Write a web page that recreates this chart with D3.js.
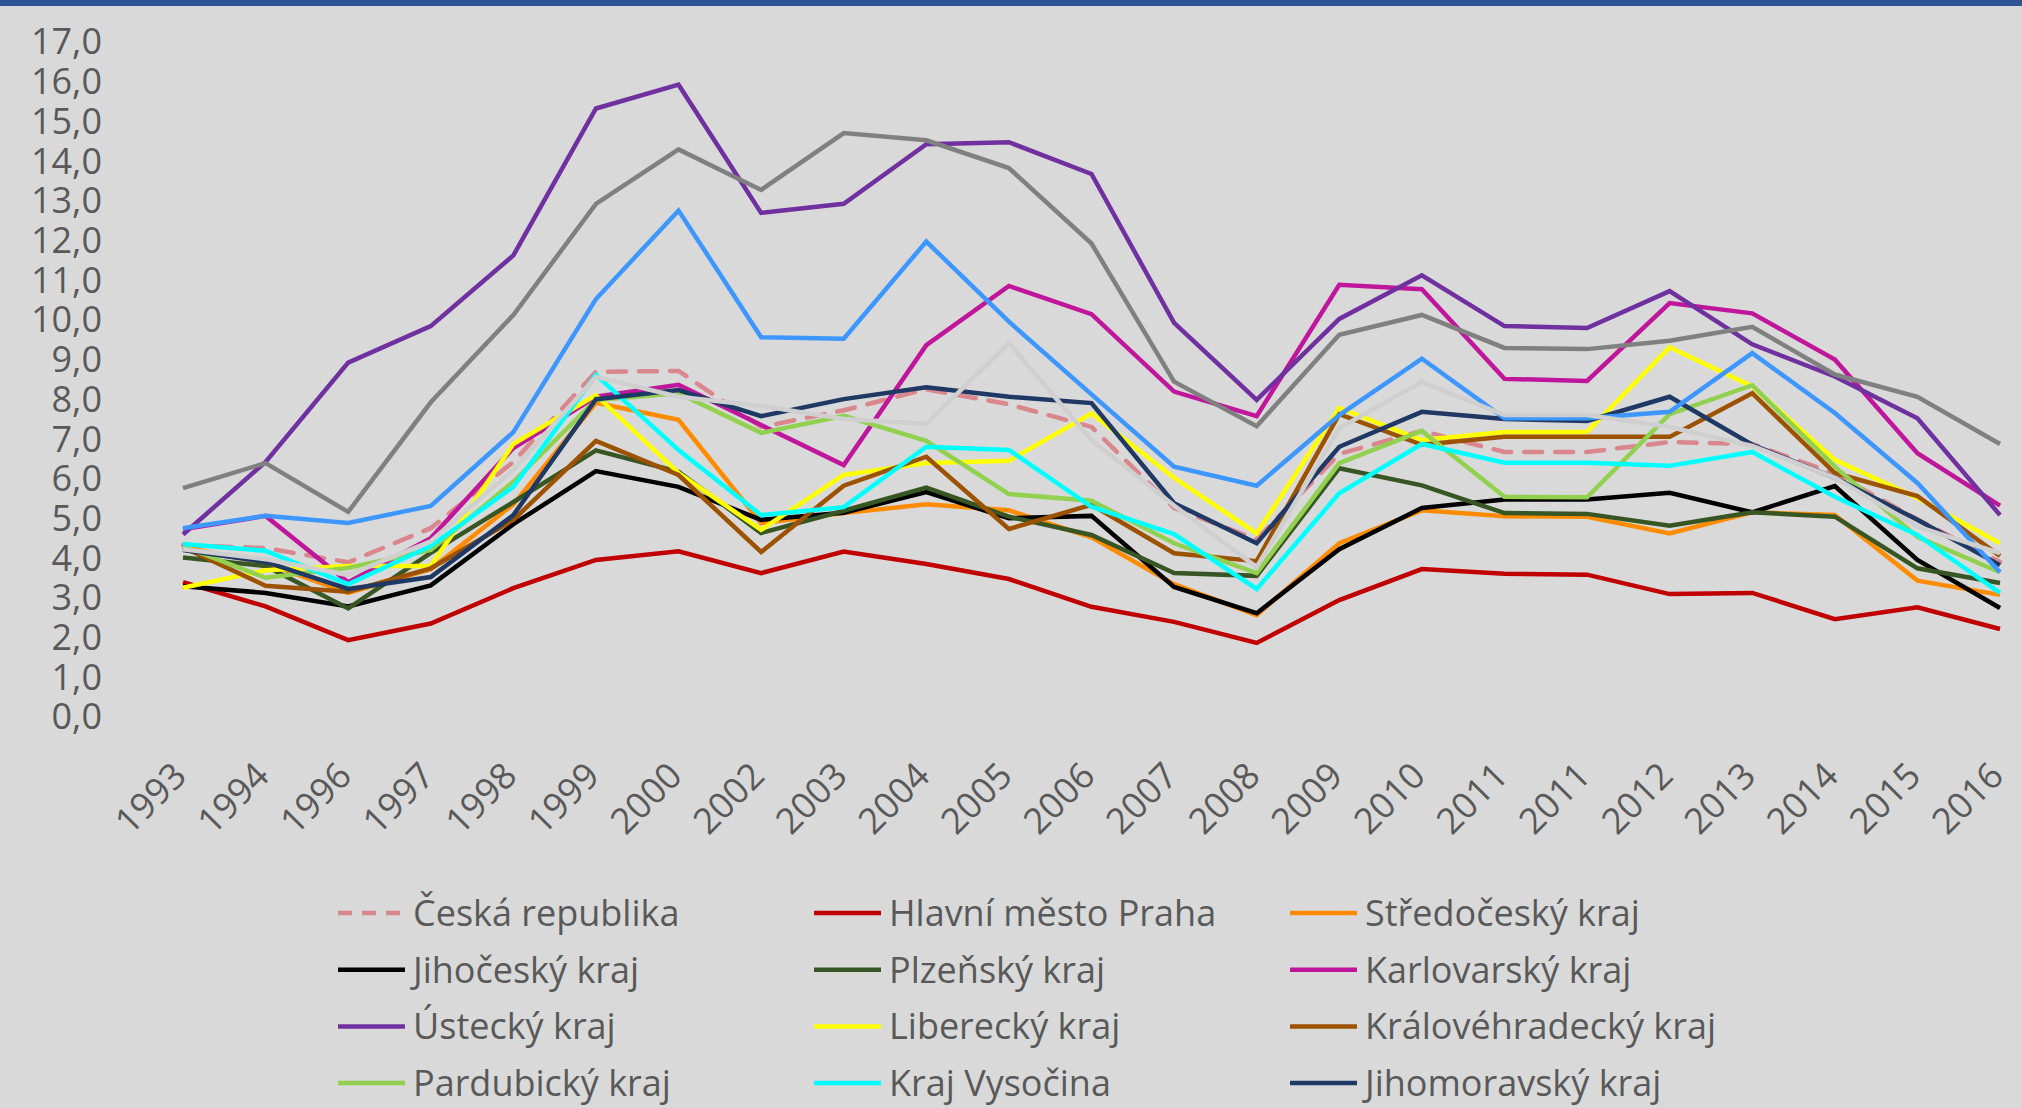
<!DOCTYPE html>
<meta charset="utf-8">
<style>
    body { margin: 0; background: #d9d9d9; }
    svg { display: block; background-color: #d9d9d9; }
    .axis text, .legend text { font-family: "Open Sans", sans-serif; font-size: 36px; fill: #595959; }
</style>
<body>
<script src="https://cdn.jsdelivr.net/npm/d3@7/dist/d3.min.js"></script>
<script>

    var width = 2022,
        height = 1108;

    // categories (2011 appears twice in the source sheet)
    var years = ["1993","1994","1996","1997","1998","1999","2000","2002","2003","2004","2005","2006",
                 "2007","2008","2009","2010","2011","2011","2012","2013","2014","2015","2016"];

    var yTicks = [0,1,2,3,4,5,6,7,8,9,10,11,12,13,14,15,16,17];

    var names = ["Česká republika","Hlavní město Praha","Středočeský kraj","Jihočeský kraj","Plzeňský kraj",
                 "Karlovarský kraj","Ústecký kraj","Liberecký kraj","Královéhradecký kraj","Pardubický kraj",
                 "Kraj Vysočina","Jihomoravský kraj","Olomoucký kraj","Zlínský kraj","Moravskoslezský kraj"];

    var colors = ["#d9868c","#c00000","#ff8c00","#000000","#375623","#c0169c","#7030a0","#ffff00",
                  "#9c5200","#92d050","#00ffff","#1f3864","#3d97ff","#cfcfcf","#808080"];

    var cr      = [4.3,4.23,3.87,4.73,6.4,8.67,8.69,7.28,7.7,8.23,7.85,7.28,5.24,4.45,6.6,7.18,6.65,6.65,6.9,6.85,6.1,4.95,3.88];
    var praha   = [3.37,2.76,1.91,2.33,3.22,3.93,4.15,3.6,4.14,3.83,3.45,2.75,2.37,1.84,2.92,3.7,3.58,3.56,3.07,3.1,2.44,2.74,2.19];
    var stredoc = [4.26,3.85,3.1,3.7,5.33,7.89,7.46,4.86,5.11,5.33,5.18,4.5,3.32,2.54,4.35,5.18,5.03,5.02,4.6,5.13,5.06,3.41,3.05];
    var jihoc   = [3.27,3.1,2.76,3.29,4.83,6.17,5.77,4.94,5.12,5.64,4.98,5.04,3.25,2.59,4.2,5.24,5.45,5.45,5.62,5.13,5.79,3.93,2.72];
    var plzen   = [3.99,3.78,2.71,4.11,5.39,6.69,6.15,4.61,5.17,5.75,5.02,4.56,3.6,3.53,6.24,5.81,5.11,5.09,4.79,5.13,5.02,3.72,3.35];
    var karlov  = [4.7,5.04,3.37,4.48,6.75,8.04,8.34,7.33,6.32,9.34,10.83,10.12,8.17,7.55,10.86,10.75,8.49,8.44,10.4,10.14,8.98,6.62,5.3];
    var ustec   = [4.57,6.4,8.9,9.82,11.6,15.3,15.9,12.67,12.9,14.4,14.45,13.65,9.9,7.96,10.0,11.1,9.82,9.77,10.7,9.36,8.55,7.5,5.06];
    var liber   = [3.23,3.67,3.78,3.78,6.85,8.08,6.12,4.69,6.07,6.37,6.43,7.62,6.0,4.6,7.76,6.95,7.15,7.15,9.29,8.3,6.45,5.49,4.35];
    var hradec  = [4.25,3.28,3.13,3.72,4.94,6.93,6.07,4.13,5.8,6.53,4.71,5.32,4.1,3.9,7.6,6.83,7.03,7.03,7.03,8.13,6.12,5.54,4.03];
    var pardub  = [4.27,3.48,3.73,4.18,5.9,7.96,8.13,7.13,7.56,6.93,5.59,5.42,4.35,3.6,6.37,7.18,5.52,5.51,7.6,8.33,6.28,4.51,3.62];
    var vysoc   = [4.33,4.16,3.32,4.28,5.77,8.59,6.7,5.06,5.26,6.78,6.7,5.27,4.58,3.2,5.61,6.85,6.38,6.38,6.3,6.65,5.52,4.56,3.1];
    var jihomor = [4.18,3.88,3.2,3.5,5.06,7.98,8.21,7.55,7.98,8.28,8.04,7.88,5.36,4.35,6.78,7.66,7.48,7.43,8.04,6.83,6.0,4.94,3.8];
    var olom    = [4.73,5.04,4.86,5.29,7.15,10.5,12.73,9.54,9.5,11.95,9.93,8.1,6.28,5.8,7.58,9.0,7.5,7.5,7.66,9.14,7.63,5.87,3.62];
    var zlin    = [4.2,3.95,3.55,4.4,6.2,8.54,8.04,7.81,7.48,7.36,9.39,6.95,5.3,3.75,7.25,8.41,7.58,7.58,7.28,6.8,6.0,4.77,4.1];
    var msk     = [5.74,6.37,5.14,7.9,10.1,12.9,14.27,13.25,14.68,14.5,13.8,11.9,8.42,7.3,9.6,10.1,9.27,9.24,9.45,9.8,8.6,8.04,6.85];

    var values = [cr,praha,stredoc,jihoc,plzen,karlov,ustec,liber,hradec,pardub,vysoc,jihomor,olom,zlin,msk];

    var series = names.map(function(n, i){
        return {name: n, color: colors[i], values: values[i], dashed: i == 0};
    });

    var svg = d3.select("body").append("svg")
        .attr("width", width)
        .attr("height", height);

    // top band
    svg.append("rect")
        .attr("x", 0).attr("y", 0)
        .attr("width", width).attr("height", 6)
        .style("fill", "#2f5597");

    var x = d3.scalePoint()
        .domain(d3.range(years.length))
        .range([183, 2000]);

    var y = d3.scaleLinear()
        .domain([0, 17])
        .range([716, 41]);

    var fmt = function(d){ return d3.format(".1f")(d).replace(".", ","); };

    var yAxis = svg.append("g")
        .attr("class", "axis")
        .attr("transform", "translate(110,0)")
        .call(d3.axisLeft(y).tickValues(yTicks).tickFormat(fmt).tickSize(0).tickPadding(8));
    yAxis.select(".domain").remove();
    yAxis.selectAll("text").attr("dy", "0.36em");

    var xAxis = svg.append("g")
        .attr("class", "axis")
        .attr("transform", "translate(0,778)")
        .call(d3.axisBottom(x).tickFormat(function(i){ return years[i]; }).tickSize(0));
    xAxis.select(".domain").remove();
    xAxis.selectAll("text")
        .attr("x", 0).attr("y", 0).attr("dy", 0)
        .attr("transform", "translate(5,0) rotate(-45)")
        .style("text-anchor", "end");

    var line = d3.line()
        .x(function(d, i){ return x(i); })
        .y(function(d){ return y(d); });

    svg.append("g")
        .selectAll("path")
        .data(series)
        .enter()
        .append("path")
        .attr("d", function(d){ return line(d.values); })
        .style("fill", "none")
        .style("stroke", function(d){ return d.color; })
        .style("stroke-width", 4.5)
        .style("stroke-dasharray", function(d){ return d.dashed ? "18,13" : null; })
        .style("stroke-linecap", function(d){ return d.dashed ? "round" : "butt"; });

    // legend, 3 columns (last row falls below the picture edge)
    var legend = svg.append("g")
        .attr("class", "legend")
        .selectAll("g")
        .data(series)
        .enter()
        .append("g")
        .attr("transform", function(d, i){
            return "translate(" + (338 + (i % 3) * 476) + "," + (913 + Math.floor(i / 3) * 56.7) + ")";
        });

    legend.append("line")
        .attr("x1", 0).attr("x2", 67)
        .style("stroke", function(d){ return d.color; })
        .style("stroke-width", 4.5)
        .style("stroke-dasharray", function(d){ return d.dashed ? "14,10" : null; });

    legend.append("text")
        .attr("x", 75)
        .attr("dy", "0.36em")
        .text(function(d){ return d.name; });

</script>
